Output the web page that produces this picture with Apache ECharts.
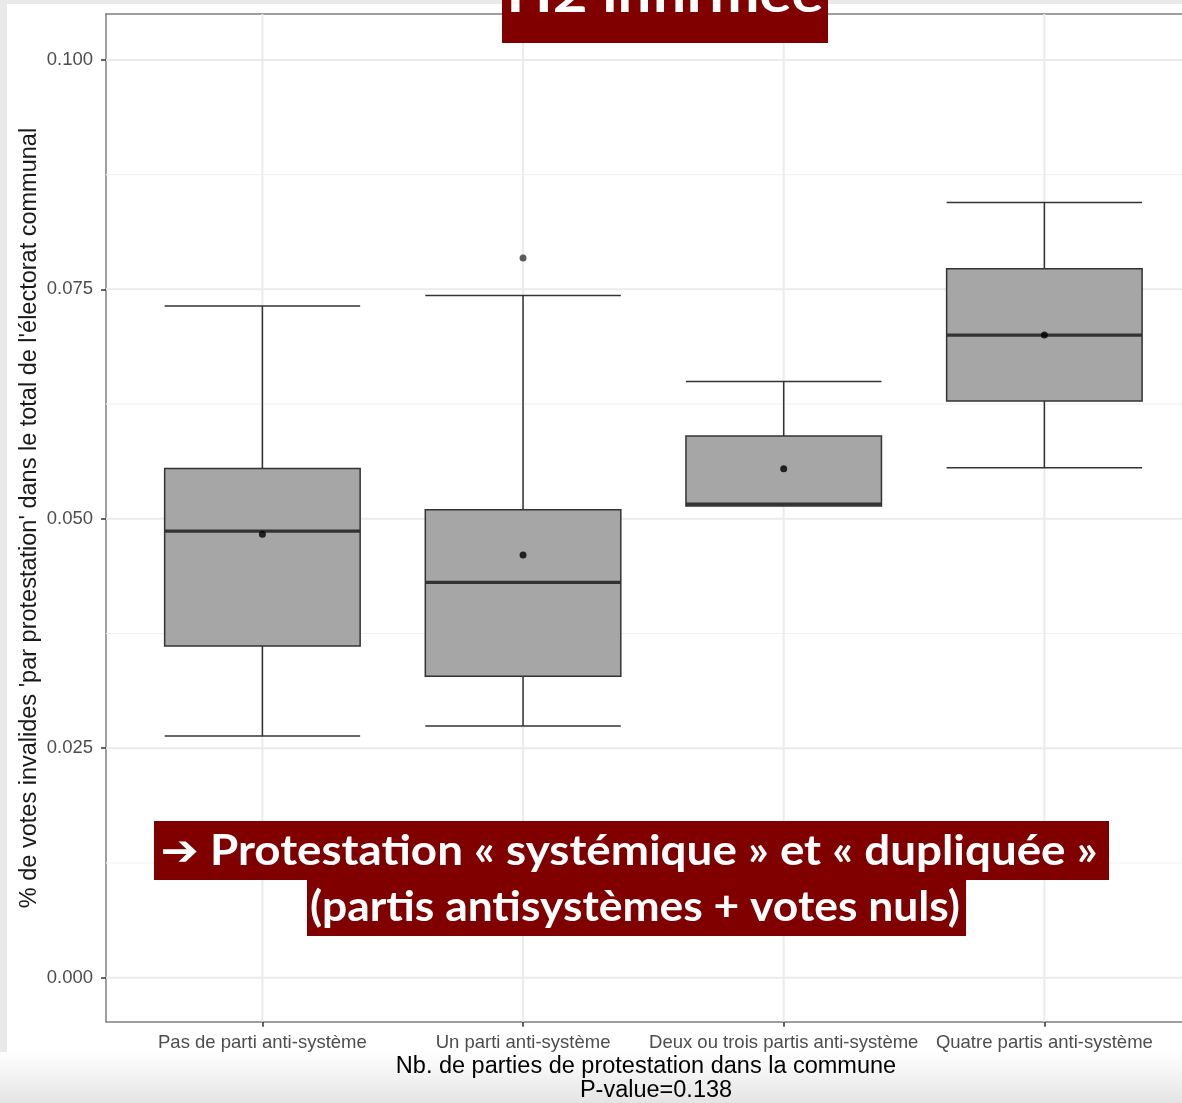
<!DOCTYPE html>
<html>
<head>
<meta charset="utf-8">
<script src="https://cdn.jsdelivr.net/npm/echarts@6/dist/echarts.min.js"></script>
<style>
html,body{margin:0;padding:0;background:#fff;}
#chart{width:1182px;height:1103px;}
</style>
</head>
<body>
<div id="chart"></div>
<script>
// ---- data ----
const categories = ['Pas de parti anti-système', 'Un parti anti-système', 'Deux ou trois partis anti-système', 'Quatre partis anti-système'];
const whiskerLow  = [0.02633, 0.02742, 0.05138, 0.05556];
const q1Values    = [0.03613, 0.03283, 0.05138, 0.06282];
const medians     = [0.04866, 0.04307, 0.05160, 0.07001];
const q3Values    = [0.05549, 0.05098, 0.05901, 0.07723];
const whiskerHigh = [0.07317, 0.07434, 0.06497, 0.08447];
const means       = [0.04830, 0.04605, 0.05545, 0.07001];
const outlierCat  = [1];
const outlierVal  = [0.07840];
const yTicks      = [0, 0.025, 0.05, 0.075, 0.1];
const yMinorTicks = [0.0125, 0.0375, 0.0625, 0.0875];
const yTickLabels = ['0.000', '0.025', '0.050', '0.075', '0.100'];
const xTitle = 'Nb. de parties de protestation dans la commune';
const pValueText = 'P-value=0.138';
const yTitle = "% de votes invalides 'par protestation' dans le total de l'électorat communal";
const headline = 'H2 infirmée';
const note1 = '➔ Protestation « systémique » et « dupliquée »';
const note2 = '(partis antisystèmes + votes nuls)';

// ---- build ----
const catIdx = categories.map((c, i) => i);
const boxData = catIdx.map(i => [i, whiskerLow[i], q1Values[i], medians[i], q3Values[i], whiskerHigh[i]]);
const meanData = catIdx.map(i => [i, means[i]]);
const outlierData = outlierCat.map((c, i) => [c, outlierVal[i]]);
// grid line items: [orientation (0 = horizontal, 1 = vertical), value, major?]
const gridData = [
  ...yMinorTicks.map(v => [0, v, 0]),
  ...yTicks.map(v => [0, v, 1]),
  ...catIdx.map(i => [1, i, 1])
];

const mctx = document.createElement('canvas').getContext('2d');
function fitScale(text, font, target) {
  mctx.font = font;
  const w = mctx.measureText(text).width;
  return w > 0 ? target / w : 1;
}
const noteFont = 'bold 42px Lato, "DejaVu Sans", sans-serif';
const headFont = 'bold 50px Lato, "DejaVu Sans", sans-serif';
const sansFont = '"Liberation Sans", Arial, sans-serif';
const borderColor = '#7f7f7f';

const chart = echarts.init(document.getElementById('chart'), null, {renderer: 'canvas'});
const option = {
  backgroundColor: '#ffffff',
  animation: false,
  grid: {
    left: 106, right: 0, top: 14, bottom: 81.3,
    show: true, backgroundColor: '#ffffff', borderWidth: 0
  },
  xAxis: [{
    type: 'value', min: -0.6, max: 3.528, position: 'bottom',
    axisLine: {show: true, onZero: false, lineStyle: {color: borderColor, width: 1.5}},
    splitLine: {show: false},
    axisTick: {show: true, length: 5, customValues: [0, 1, 2, 3], lineStyle: {color: '#333333', width: 1.5}},
    axisLabel: {
      show: true, customValues: [0, 1, 2, 3], margin: 12,
      formatter: v => categories[Math.round(v)] || '',
      color: '#4d4d4d', fontSize: 18.5, fontFamily: sansFont
    }
  }, {
    type: 'value', min: -0.6, max: 3.528, position: 'top',
    axisLine: {show: true, onZero: false, lineStyle: {color: borderColor, width: 1.5}},
    splitLine: {show: false}, axisTick: {show: false}, axisLabel: {show: false}
  }],
  yAxis: {
    type: 'value', min: -0.0048, max: 0.105,
    axisLine: {show: true, onZero: false, lineStyle: {color: borderColor, width: 1.5}},
    splitLine: {show: false},
    axisTick: {show: true, length: 5, customValues: yTicks, lineStyle: {color: '#333333', width: 1.5}},
    axisLabel: {
      show: true, customValues: yTicks, margin: 13,
      formatter: v => { const k = yTicks.findIndex(t => Math.abs(t - v) < 1e-9); return k >= 0 ? yTickLabels[k] : ''; },
      color: '#4d4d4d', fontSize: 18.5, fontFamily: sansFont
    }
  },
  series: [
    {
      type: 'custom', z: 1, silent: true,
      data: gridData,
      renderItem: function (params, api) {
        const cs = params.coordSys;
        const major = api.value(2) === 1;
        const style = {stroke: major ? '#ebebeb' : '#f2f2f2', lineWidth: major ? 2 : 1.2};
        if (api.value(0) === 0) {
          const y = api.coord([0, api.value(1)])[1];
          return {type: 'line', shape: {x1: cs.x, y1: y, x2: cs.x + cs.width, y2: y}, style};
        }
        const x = api.coord([api.value(1), 0])[0];
        return {type: 'line', shape: {x1: x, y1: cs.y, x2: x, y2: cs.y + cs.height}, style};
      }
    },
    {
      type: 'custom', z: 3, silent: true,
      data: boxData,
      encode: {x: 0, y: [1, 2, 3, 4, 5]},
      renderItem: function (params, api) {
        const x = api.value(0);
        const half = api.size([0.75, 0])[0] / 2;
        const pLow = api.coord([x, api.value(1)]);
        const pQ1 = api.coord([x, api.value(2)]);
        const pMed = api.coord([x, api.value(3)]);
        const pQ3 = api.coord([x, api.value(4)]);
        const pHigh = api.coord([x, api.value(5)]);
        const cx = pQ1[0];
        const stroke = '#333333';
        const children = [];
        if (Math.abs(pHigh[1] - pQ3[1]) > 0.5) {
          children.push({type: 'line', shape: {x1: cx, y1: pHigh[1], x2: cx, y2: pQ3[1]}, style: {stroke, lineWidth: 1.5}});
          children.push({type: 'line', shape: {x1: cx - half, y1: pHigh[1], x2: cx + half, y2: pHigh[1]}, style: {stroke, lineWidth: 1.5}});
        }
        if (Math.abs(pLow[1] - pQ1[1]) > 0.5) {
          children.push({type: 'line', shape: {x1: cx, y1: pQ1[1], x2: cx, y2: pLow[1]}, style: {stroke, lineWidth: 1.5}});
          children.push({type: 'line', shape: {x1: cx - half, y1: pLow[1], x2: cx + half, y2: pLow[1]}, style: {stroke, lineWidth: 1.5}});
        }
        children.push({type: 'rect', shape: {x: cx - half, y: pQ3[1], width: 2 * half, height: pQ1[1] - pQ3[1]},
          style: {fill: '#a6a6a6', stroke, lineWidth: 1.5}});
        children.push({type: 'line', shape: {x1: cx - half, y1: pMed[1], x2: cx + half, y2: pMed[1]}, style: {stroke, lineWidth: 3.2}});
        return {type: 'group', children};
      }
    },
    {
      type: 'scatter', z: 4, data: meanData, symbol: 'circle', symbolSize: 7,
      itemStyle: {color: '#000000'}, silent: true
    },
    {
      type: 'scatter', z: 4, data: outlierData, symbol: 'circle', symbolSize: 7,
      itemStyle: {color: '#333333'}, silent: true
    }
  ],
  graphic: [
    {type: 'rect', z: -10, silent: true, shape: {x: 0, y: 0, width: 1182, height: 4}, style: {fill: '#e9e9e9'}},
    {type: 'rect', z: -10, silent: true, shape: {x: 0, y: 0, width: 7, height: 1103}, style: {fill: '#e9e9e9'}},
    {type: 'rect', z: -10, silent: true, shape: {x: 0, y: 1052, width: 1182, height: 51},
      style: {fill: new echarts.graphic.LinearGradient(0, 0, 0, 1, [{offset: 0, color: '#ffffff'}, {offset: 1, color: '#e4e4e4'}])}},
    {type: 'text', z: 10, silent: true, x: 646, y: 1067,
      style: {text: xTitle, fill: '#000000', font: '23.5px ' + sansFont, textAlign: 'center', textVerticalAlign: 'middle'}},
    {type: 'text', z: 10, silent: true, x: 656, y: 1091,
      style: {text: pValueText, fill: '#000000', font: '23.5px ' + sansFont, textAlign: 'center', textVerticalAlign: 'middle'}},
    {type: 'text', z: 10, silent: true, x: 30, y: 518, rotation: Math.PI / 2,
      style: {text: yTitle, fill: '#1a1a1a', font: '23.5px ' + sansFont, textAlign: 'center', textVerticalAlign: 'middle'}},
    {type: 'rect', z: 20, silent: true, shape: {x: 502, y: 0, width: 326, height: 43}, style: {fill: '#800000'}},
    {type: 'text', z: 21, silent: true, x: 665, y: 21, scaleX: fitScale(headline, headFont, 317),
      style: {text: headline, fill: '#ffffff', font: headFont, textAlign: 'center', textVerticalAlign: 'bottom'}},
    {type: 'rect', z: 20, silent: true, shape: {x: 154, y: 821, width: 955, height: 59}, style: {fill: '#800000'}},
    {type: 'rect', z: 20, silent: true, shape: {x: 307, y: 880, width: 659, height: 56}, style: {fill: '#800000'}},
    {type: 'text', z: 21, silent: true, x: 629, y: 851, scaleX: fitScale(note1, noteFont, 937),
      style: {text: note1, fill: '#ffffff', font: noteFont, textAlign: 'center', textVerticalAlign: 'middle'}},
    {type: 'text', z: 21, silent: true, x: 635, y: 907, scaleX: fitScale(note2, noteFont, 650),
      style: {text: note2, fill: '#ffffff', font: noteFont, textAlign: 'center', textVerticalAlign: 'middle'}}
  ]
};
chart.setOption(option);
</script>
</body>
</html>
